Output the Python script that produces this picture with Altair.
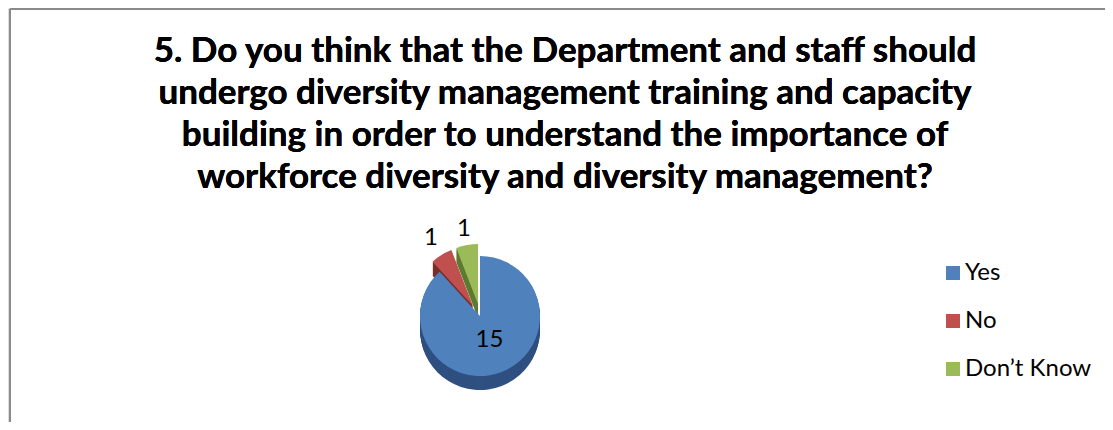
import math
import altair as alt
import pandas as pd

categories = ["Yes", "No", "Don\u2019t Know"]
counts = [15, 1, 1]
slice_colors = ["#4F81BD", "#C0504D", "#9BBB59"]
side_colors = ["#2F5080", "#7A2E2C", "#5F7A30"]
title_lines = [
    "5. Do you think that the Department and staff should",
    "undergo diversity management training and capacity",
    "building in order to understand the importance of",
    "workforce diversity and diversity management?",
]

df = pd.DataFrame({"answer": categories, "count": counts, "idx": list(range(len(categories)))})

W, H = 1097, 414
CX, CY = 472, 308          # pie centre (view coords)
R = 60                     # pie radius
DEPTH = 14                 # 3-D thickness
explode = {"Yes": (0, 0), "No": (-7, -10), "Don\u2019t Know": (-2, -12)}
label_r = {"Yes": 26, "No": 80, "Don\u2019t Know": 76}

base = (
    alt.Chart(df)
    .transform_window(cum="sum(count)", sort=[alt.SortField("idx")], frame=[None, 0])
    .transform_joinaggregate(total="sum(count)")
    .transform_calculate(
        t0="(datum.cum - datum.count) / datum.total",
        t1="datum.cum / datum.total",
        mid="(datum.cum - datum.count / 2) / datum.total",
    )
)

theta_scale = alt.Scale(domain=[0, 1], range=[0, 2 * math.pi])
color_enc = alt.Color(
    "answer:N",
    scale=alt.Scale(domain=categories, range=slice_colors),
    legend=alt.Legend(
        title=None,
        orient="none",
        legendX=933,
        legendY=253,
        symbolType="square",
        symbolSize=196,
        symbolStrokeWidth=0,
        labelFont="Lato",
        labelFontSize=24,
        labelColor="#000000",
        labelOffset=0,
        rowPadding=24,
        padding=0,
    ),
)

layers = []

# frame lines
layers.append(
    alt.Chart(df).mark_rule(color="#8A8A8A", strokeWidth=2).encode(
        x=alt.value(2), x2=alt.value(W), y=alt.value(1)
    )
)
layers.append(
    alt.Chart(df).mark_rule(color="#8A8A8A", strokeWidth=2).encode(
        x=alt.value(2), y=alt.value(1), y2=alt.value(H)
    )
)

# title
layers.append(
    alt.Chart(df).mark_text(
        text=title_lines,
        font="Lato",
        fontSize=35,
        fontWeight="bold",
        color="#000000",
        align="center",
        baseline="alphabetic",
        lineHeight=42,
    ).encode(x=alt.value(557), y=alt.value(54))
)

draw_order = [1, 2, 0]
for i in draw_order:
    cat = categories[i]
    dx, dy = explode[cat]
    sub = base.transform_filter(alt.datum.answer == cat)
    for k in range(DEPTH, 0, -1):
        layers.append(
            sub.mark_arc(outerRadius=R, color=side_colors[i]).encode(
                theta=alt.Theta("t0:Q", scale=theta_scale),
                theta2="t1:Q",
                x=alt.value(CX + dx),
                y=alt.value(CY + dy + k),
            )
        )
    layers.append(
        sub.mark_arc(outerRadius=R).encode(
            theta=alt.Theta("t0:Q", scale=theta_scale),
            theta2="t1:Q",
            color=color_enc,
            x=alt.value(CX + dx),
            y=alt.value(CY + dy),
        )
    )

for i, cat in enumerate(categories):
    dx, dy = explode[cat]
    sub = base.transform_filter(alt.datum.answer == cat)
    layers.append(
        sub.mark_text(
            radius=label_r[cat], font="Lato", fontSize=24, color="#000000",
            align="center", baseline="middle",
        ).encode(
            theta=alt.Theta("mid:Q", scale=theta_scale),
            text="count:Q",
            x=alt.value(CX + dx),
            y=alt.value(CY + dy),
        )
    )

chart = (
    alt.layer(*layers)
    .properties(width=W, height=H, autosize=alt.AutoSizeParams(type="none"), padding=0)
    .configure_view(stroke=None)
    .configure(background="#FFFFFF")
)

chart.save("out.html", embed_options={"renderer": "svg", "actions": False})
